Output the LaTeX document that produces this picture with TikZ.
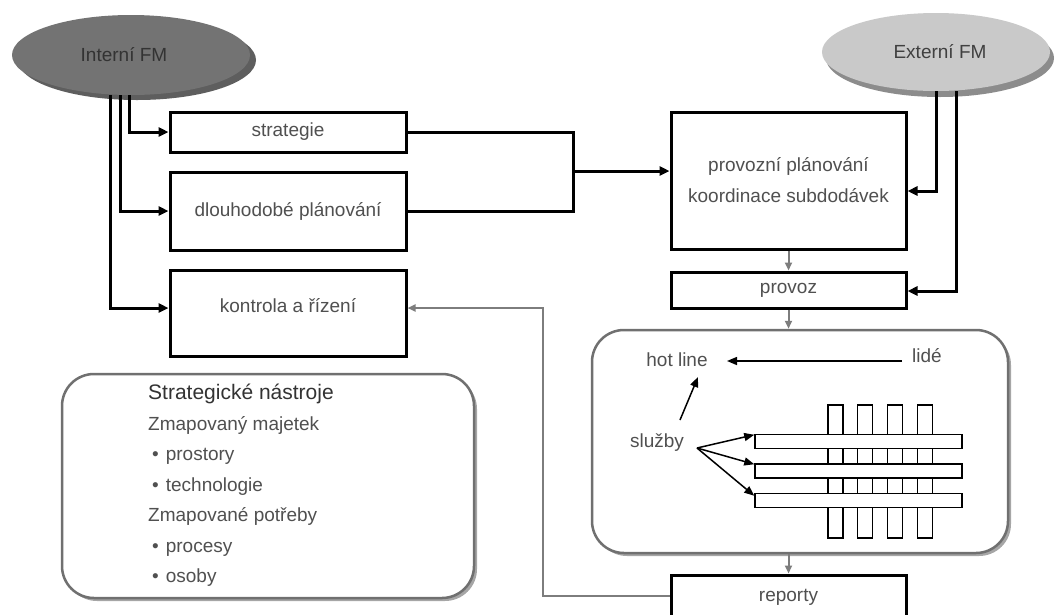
\documentclass[tikz,border=0pt]{standalone}
\usepackage{fontspec}
\setmainfont{Liberation Sans}
\usetikzlibrary{arrows.meta,shadows,calc,shapes.geometric}
\definecolor{txt}{HTML}{505050}
\definecolor{intfill}{HTML}{737373}
\definecolor{intshad}{HTML}{5E5E5E}
\definecolor{extfill}{HTML}{C9C9C9}
\definecolor{extshad}{HTML}{8C8C8C}
\definecolor{garrow}{HTML}{7D7D7D}
\definecolor{rborder}{HTML}{707070}
\begin{document}
\begin{tikzpicture}[x=1pt,y=-1pt,
  every node/.style={inner sep=0pt, text=txt, font=\fontsize{19}{23}\selectfont},
  blackbox/.style={draw=black, line width=3pt, fill=white, minimum width=236},
  conn/.style={line width=3pt, -{Triangle[length=10pt,width=9pt]}},
  gconn/.style={draw=garrow, line width=2pt, -{Triangle[length=8pt,width=7pt]}},
  thinarr/.style={line width=1.5pt, -{Triangle[length=10pt,width=8pt]}},
  rbox/.style={draw=rborder, line width=2.5pt, fill=white, rounded corners=32pt,
    drop shadow={shadow xshift=3pt, shadow yshift=-3pt, fill=black, opacity=0.35}},
  vbar/.style={draw=black, line width=1.5pt, fill=white, minimum width=15, minimum height=133},
  hbar/.style={draw=black, line width=1.5pt, fill=white, minimum width=207, minimum height=14}
]
\useasboundingbox (0,0) rectangle (1055,614);
\clip (0,0) rectangle (1055,614);
\fill[white] (0,0) rectangle (1055,614);

% ellipses
\node[ellipse, fill=intfill, minimum width=238, minimum height=80, text=black!80,
  drop shadow={shadow xshift=6pt, shadow yshift=-5pt, fill=intshad, opacity=1}]
  (intfm) at (131,55) {Interní FM\hspace*{14pt}};
\node[ellipse, fill=extfill, minimum width=228, minimum height=78, text=black!75,
  drop shadow={shadow xshift=4pt, shadow yshift=-6pt, fill=extshad, opacity=1}]
  (extfm) at (936,52) {\hspace*{8pt}Externí FM};

% left boxes
\node[blackbox, minimum height=40] (strat) at (288,132) {strategie};
\node[blackbox, minimum height=78] (dlouh) at (288,211) {dlouhodobé plánování};
\node[blackbox, minimum height=86, label={[yshift=7pt, text=txt]center:kontrola a řízení}] (kont) at (288,313) {};

% right boxes
\node[blackbox, minimum width=235, minimum height=137, align=center,
  font=\fontsize{19}{31}\selectfont] (prov) at (788.5,180.5) {provozní plánování\\koordinace subdodávek};
\node[blackbox, minimum width=235, minimum height=36] (provoz) at (788.5,290) {provoz};
\node[blackbox, minimum width=235, minimum height=44] (rep) at (788.5,597) {reporty};

% rounded boxes
\node[rbox, minimum width=412, minimum height=224] (strbox) at (268,486) {};
\node[rbox, minimum width=416, minimum height=223] (big) at (800,441.5) {};

\node[anchor=north west, align=left, font=\fontsize{19}{30.5}\selectfont] (strtext) at (148,384)
  {\textcolor{black!80}{\fontsize{21}{30.5}\selectfont Strategické nástroje}\\
   Zmapovaný majetek\\
   \hspace*{4pt}\textbullet\hspace{7pt}prostory\\
   \hspace*{4pt}\textbullet\hspace{7pt}technologie\\
   Zmapované potřeby\\
   \hspace*{4pt}\textbullet\hspace{7pt}procesy\\
   \hspace*{4pt}\textbullet\hspace{7pt}osoby};

% connectors from Interni FM
\draw[conn] ([xshift=-2pt]intfm.south) |- (strat.west);
\draw[conn] ([xshift=-11pt]intfm.south) |- (dlouh.west);
\draw[conn] ([xshift=-21pt]intfm.south) |- ([yshift=5pt]kont.west);

% join strategie / dlouhodobe -> provozni
\coordinate (join) at (573,171);
\draw[line width=3pt] (strat.east) -| (join) |- (dlouh.east);
\draw[conn] (join) -- (join -| prov.west);

% connectors from Externi FM
\draw[conn] ([xshift=0pt]extfm.south) |- ([yshift=-10.5pt]prov.east);
\draw[conn] ([xshift=20pt]extfm.south) |- ([yshift=-1pt]provoz.east);

% gray flow arrows
\draw[gconn] (prov.south) -- (provoz.north);
\draw[gconn] (provoz.south) -- (provoz.south |- big.north);
\draw[gconn] (rep.north |- big.south) -- (rep.north);
\coordinate (fb) at (543,596);
\draw[gconn] ([yshift=1pt]rep.west) -- (fb) |- ([yshift=5pt]kont.east);

% inside big box
\node (hot) at (677,360) {hot line};
\node (lide) at (927,356) {lidé};
\node (slu) at (657,443) {služby};

\node[vbar] (v1) at (835.5,471.5) {};
\node[vbar] (v2) at (865,471.5) {};
\node[vbar] (v3) at (895,471.5) {};
\node[vbar] (v4) at (925,471.5) {};
\node[hbar] (h1) at (858.5,441.5) {};
\node[hbar] (h2) at (858.5,471) {};
\node[hbar] (h3) at (858.5,500.5) {};

\draw[thinarr] ($(lide.center)+(-25,5)$) -- ($(hot.center)+(50,1)$);
\draw[thinarr] ($(slu.center)+(23,-23)$) -- ($(hot.center)+(21,17)$);
\coordinate (fork) at ($(slu.center)+(40,5)$);
\draw[thinarr] (fork) -- ([yshift=-1pt]h1.north west);
\draw[thinarr] (fork) -- ([yshift=-1pt]h2.north west);
\draw[thinarr] (fork) -- ([yshift=-3pt]h3.north west);
\end{tikzpicture}
\end{document}
